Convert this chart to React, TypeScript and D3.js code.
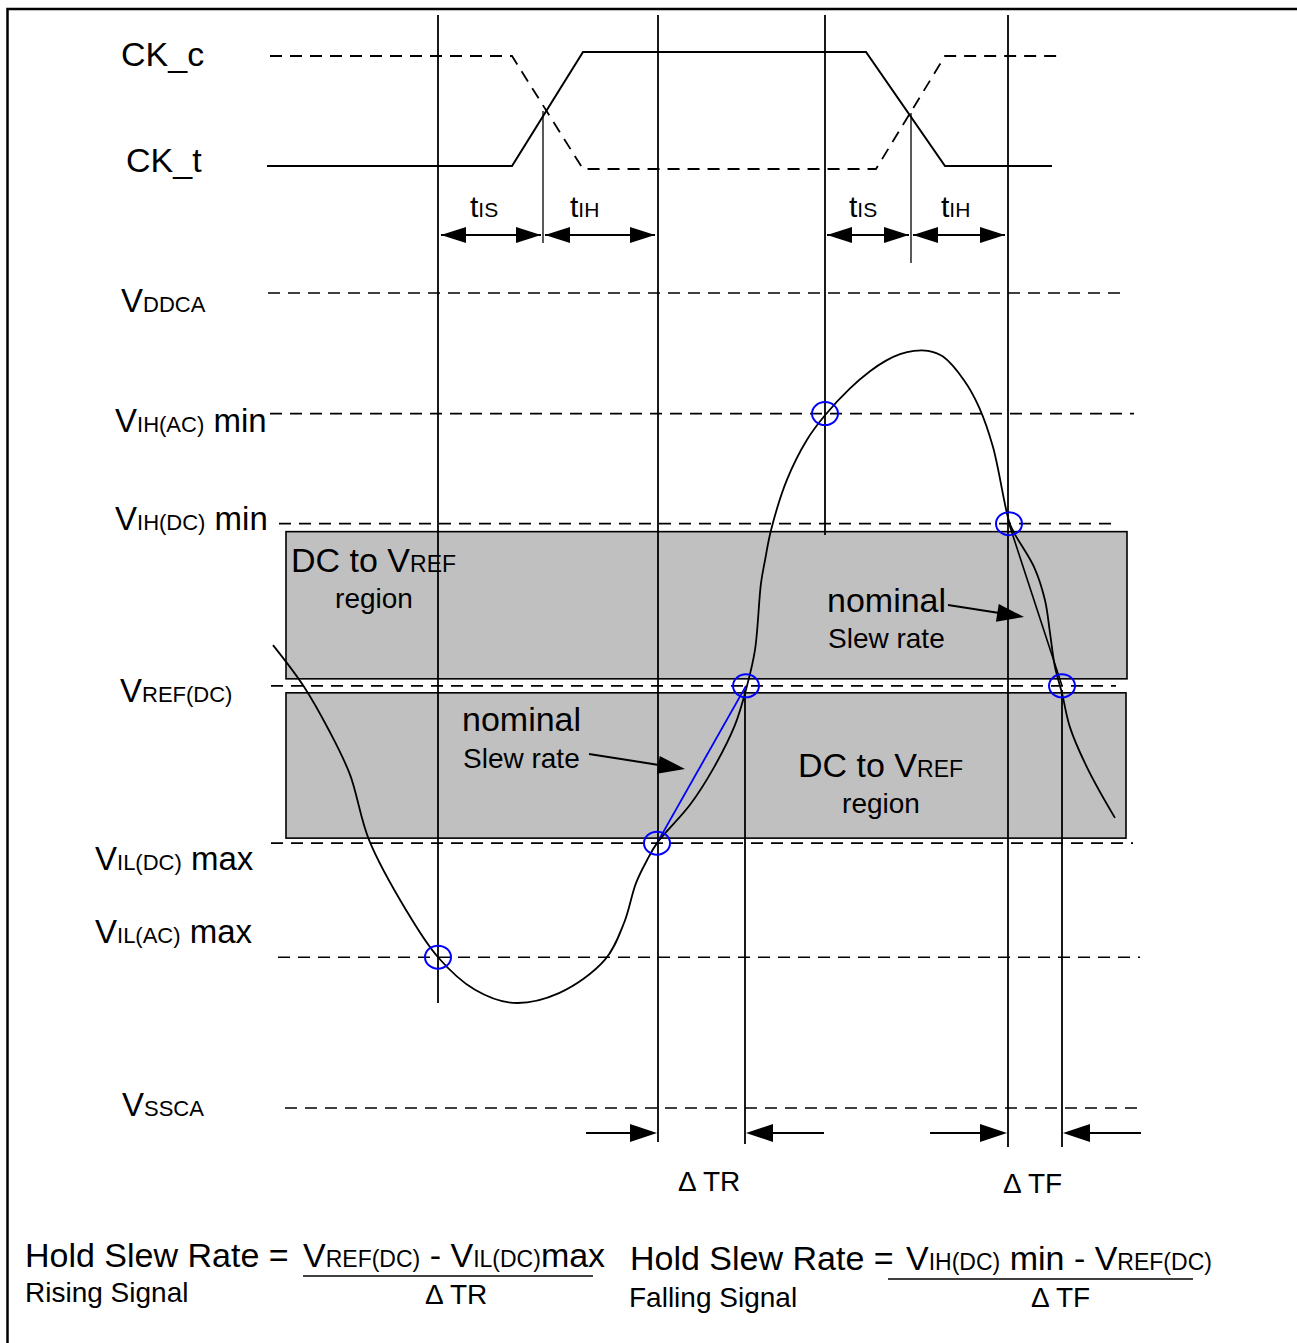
import React from "react";
import * as d3 from "d3";

// ---------- DATA ----------
// Reference voltage levels (% of VDDCA)
const levelNames = ["VDDCA", "VIH(AC) min", "VIH(DC) min", "VREF(DC)", "VIL(DC) max", "VIL(AC) max", "VSSCA"];
const levelValues = [100, 85.2, 71.7, 51.8, 32.5, 18.5, 0];

// Input waveform: time units and level (% of VDDCA)
const waveT = [273, 304, 330, 350, 369, 406, 438, 475, 513, 559, 605, 624, 636, 647, 657, 690, 714, 735, 747, 755, 761, 765, 771, 787, 807, 825, 850, 870, 886, 900, 914, 928, 943, 964, 979, 993, 1009, 1014, 1034, 1045, 1050, 1055, 1062, 1070, 1087, 1115];
const waveV = [56.8, 51.7, 46.1, 40.9, 32.9, 24.3, 18.5, 14.5, 12.9, 14.1, 18.2, 22.7, 27.6, 30.4, 32.5, 37.2, 41.8, 47.0, 51.8, 56.2, 64.4, 67.2, 70.9, 77.1, 82.0, 85.0, 88.3, 90.4, 91.7, 92.5, 92.9, 92.9, 92.2, 89.3, 86.0, 81.1, 72.0, 70.6, 66.4, 62.3, 58.3, 54.1, 50.9, 46.7, 41.8, 35.6];

// Clock edges: time, logic state
const ckT_times = [267, 512, 583, 866, 945, 1052];
const ckT_states = [0, 0, 1, 1, 0, 0];
const ckC_times = [270, 512, 583, 876, 945, 1062];
const ckC_states = [1, 1, 0, 0, 1, 1];

// Timing markers (time units)
const tSetupRise = 438, tCrossRise = 543, tHoldRise = 658, tVrefRise = 745;
const tSetupFall = 825, tCrossFall = 911, tHoldFall = 1008, tVrefFall = 1062;

// Threshold-crossing markers: time, level index
const markT = [438, 657, 746, 825, 1009, 1062];
const markLevel = [5, 4, 3, 1, 2, 3];

// ---------- LAYOUT ----------
const W = 1297, H = 1343;
const FONT = "'Liberation Sans', Arial, Helvetica, sans-serif";
const x = d3.scaleLinear().domain([0, W]).range([0, W]);
const y = d3.scaleLinear().domain([0, 100]).range([1108, 293]);
const yCkT = d3.scaleLinear().domain([0, 1]).range([166, 52]);
const yCkC = d3.scaleLinear().domain([0, 1]).range([169, 56]);

const levelExtent: [number, number][] = [[268, 1120], [270, 1134], [279, 1116], [271, 1116], [271, 1133], [278, 1140], [285, 1138]];

type Part = [string, number];
const levelLabelParts: Part[][] = [
  [["V", 33], ["DDCA", 22]],
  [["V", 33], ["IH(AC)", 22], [" min", 33]],
  [["V", 33], ["IH(DC)", 22], [" min", 33]],
  [["V", 33], ["REF(DC)", 22]],
  [["V", 33], ["IL(DC)", 22], [" max", 33]],
  [["V", 33], ["IL(AC)", 22], [" max", 33]],
  [["V", 33], ["SSCA", 22]],
];
const levelLabelPos: [number, number][] = [[121, 312], [115, 432], [115, 530], [120, 702], [95, 870], [95, 943], [122, 1116]];

function head(tip: [number, number], from: [number, number], len: number, hw: number) {
  const dx = tip[0] - from[0], dy = tip[1] - from[1];
  const L = Math.hypot(dx, dy);
  const ux = dx / L, uy = dy / L;
  const bx = tip[0] - ux * len, by = tip[1] - uy * len;
  return `M${tip[0]},${tip[1]}L${bx - uy * hw},${by + ux * hw}L${bx + uy * hw},${by - ux * hw}Z`;
}

function Txt({ x: tx, y: ty, parts, anchor }: { x: number; y: number; parts: Part[]; anchor?: string }) {
  return (
    <text x={tx} y={ty} fontFamily={FONT} fill="#000" textAnchor={anchor || "start"} style={{ whiteSpace: "pre" }}>
      {parts.map(([t, s], i) => (
        <tspan key={i} fontSize={s}>{t}</tspan>
      ))}
    </text>
  );
}

function DblArrow({ a, b, yy }: { a: number; b: number; yy: number }) {
  return (
    <g>
      <line x1={x(a)} x2={x(b)} y1={yy} y2={yy} stroke="#000" strokeWidth={2} />
      <path d={head([x(a), yy], [x(b), yy], 25, 8)} fill="#000" />
      <path d={head([x(b), yy], [x(a), yy], 25, 8)} fill="#000" />
    </g>
  );
}

function Arrow({ from, tip, len = 27, hw = 9 }: { from: [number, number]; tip: [number, number]; len?: number; hw?: number }) {
  const d = Math.hypot(tip[0] - from[0], tip[1] - from[1]);
  const ex = tip[0] - ((tip[0] - from[0]) / d) * (len - 2);
  const ey = tip[1] - ((tip[1] - from[1]) / d) * (len - 2);
  return (
    <g>
      <line x1={from[0]} y1={from[1]} x2={ex} y2={ey} stroke="#000" strokeWidth={2} />
      <path d={head(tip, from, len, hw)} fill="#000" />
    </g>
  );
}

export default function App() {
  const wave = d3
    .line<number>()
    .x((_, i) => x(waveT[i]))
    .y((v) => y(v))
    .curve(d3.curveCatmullRom.alpha(0.5))(waveV) as string;

  const ckTLine = d3.line<number>().x((t) => x(t)).y((_, i) => yCkT(ckT_states[i]))(ckT_times) as string;
  const ckCLine = d3.line<number>().x((t) => x(t)).y((_, i) => yCkC(ckC_states[i]))(ckC_times) as string;

  const vLines: [number, number, number, number][] = [
    [tSetupRise, 15, 1003, 1.8],
    [tHoldRise, 15, 1142, 1.8],
    [tVrefRise, 690, 1144, 1.8],
    [tSetupFall, 15, 535, 1.8],
    [tHoldFall, 15, 1147, 1.8],
    [tVrefFall, 690, 1147, 1.8],
    [tCrossRise, 111, 243, 1.3],
    [tCrossFall, 113, 263, 1.3],
  ];

  const ref = levelValues[3], dcHi = levelValues[2], dcLo = levelValues[4];

  return (
    <svg width={W} height={H} style={{ position: "absolute", left: 0, top: 0, background: "#fff" }}>
      <rect x={0} y={0} width={W} height={H} fill="#fff" />
      {/* frame */}
      <path d={`M7.5,${H}V9H${W}`} fill="none" stroke="#000" strokeWidth={2.5} />

      {/* DC to VREF regions */}
      <rect x={286} y={y(dcHi) + 8} width={1127 - 286} height={y(ref) - 7 - (y(dcHi) + 8)} fill="#c0c0c0" stroke="#000" strokeWidth={1.6} />
      <rect x={286} y={y(ref) + 7} width={1126 - 286} height={y(dcLo) - 5 - (y(ref) + 7)} fill="#c0c0c0" stroke="#000" strokeWidth={1.6} />

      {/* level dashed lines */}
      {levelValues.map((v, i) => (
        <line key={i} x1={x(levelExtent[i][0])} x2={x(levelExtent[i][1])} y1={y(v)} y2={y(v)} stroke="#000" strokeWidth={1.6} strokeDasharray="12,8" />
      ))}

      {/* vertical time markers */}
      {vLines.map(([t, y1, y2, sw], i) => (
        <line key={i} x1={x(t)} x2={x(t)} y1={y1} y2={y2} stroke="#000" strokeWidth={sw} />
      ))}

      {/* clocks */}
      <path d={ckCLine} fill="none" stroke="#000" strokeWidth={1.8} strokeDasharray="12,8" />
      <path d={ckTLine} fill="none" stroke="#000" strokeWidth={2} />

      {/* nominal slew lines */}
      <line x1={x(markT[1])} y1={y(dcLo)} x2={x(markT[2])} y2={y(ref)} stroke="#0000ff" strokeWidth={1.8} />
      <line x1={x(markT[4])} y1={y(dcHi)} x2={x(markT[5])} y2={y(ref)} stroke="#000" strokeWidth={1.6} />

      {/* waveform */}
      <path d={wave} fill="none" stroke="#000" strokeWidth={1.8} />

      {/* crossing markers */}
      {markT.map((t, i) => (
        <ellipse key={i} cx={x(t)} cy={y(levelValues[markLevel[i]])} rx={13} ry={11.5} fill="none" stroke="#0000ff" strokeWidth={2} />
      ))}

      {/* labels */}
      <Txt x={121} y={66} parts={[["CK_c", 34]]} />
      <Txt x={126} y={172} parts={[["CK_t", 34]]} />
      {levelLabelParts.map((p, i) => (
        <Txt key={i} x={levelLabelPos[i][0]} y={levelLabelPos[i][1]} parts={p} />
      ))}

      {/* tIS / tIH */}
      <Txt x={470} y={217} parts={[["t", 30], ["IS", 21]]} />
      <Txt x={570} y={217} parts={[["t", 30], ["IH", 21]]} />
      <Txt x={849} y={217} parts={[["t", 30], ["IS", 21]]} />
      <Txt x={941} y={217} parts={[["t", 30], ["IH", 21]]} />
      <DblArrow a={tSetupRise + 3} b={tCrossRise - 2} yy={235} />
      <DblArrow a={tCrossRise + 2} b={tHoldRise - 3} yy={235} />
      <DblArrow a={tSetupFall + 2} b={tCrossFall - 2} yy={235} />
      <DblArrow a={tCrossFall + 2} b={tHoldFall - 3} yy={235} />

      {/* region texts */}
      <Txt x={291} y={572} parts={[["DC to V", 34], ["REF", 23]]} />
      <Txt x={374} y={608} parts={[["region", 28]]} anchor="middle" />
      <Txt x={798} y={777} parts={[["DC to V", 34], ["REF", 23]]} />
      <Txt x={881} y={813} parts={[["region", 28]]} anchor="middle" />
      <Txt x={827} y={612} parts={[["nominal", 34]]} />
      <Txt x={828} y={648} parts={[["Slew rate", 28]]} />
      <Txt x={462} y={731} parts={[["nominal", 34]]} />
      <Txt x={463} y={768} parts={[["Slew rate", 28]]} />
      <Arrow from={[948, 605]} tip={[1024, 617]} />
      <Arrow from={[589, 754]} tip={[685, 769]} />

      {/* delta T arrows */}
      <Arrow from={[586, 1133]} tip={[x(tHoldRise) - 1, 1133]} />
      <Arrow from={[824, 1133]} tip={[x(tVrefRise) + 1, 1133]} />
      <Arrow from={[930, 1133]} tip={[x(tHoldFall) - 1, 1133]} />
      <Arrow from={[1141, 1133]} tip={[x(tVrefFall) + 1, 1133]} />
      <Txt x={678} y={1191} parts={[["Δ TR", 28]]} />
      <Txt x={1003} y={1193} parts={[["Δ TF", 28]]} />

      {/* formulas */}
      <Txt x={25} y={1267} parts={[["Hold Slew Rate = ", 34]]} />
      <Txt x={303} y={1267} parts={[["V", 34], ["REF(DC)", 23], [" - V", 34], ["IL(DC)", 23], ["max", 34]]} />
      <line x1={303} x2={593} y1={1276} y2={1276} stroke="#000" strokeWidth={1.6} />
      <Txt x={425} y={1304} parts={[["Δ TR", 28]]} />
      <Txt x={25} y={1302} parts={[["Rising Signal", 28]]} />

      <Txt x={630} y={1270} parts={[["Hold Slew Rate = ", 34]]} />
      <Txt x={906} y={1270} parts={[["V", 34], ["IH(DC)", 23], [" min - V", 34], ["REF(DC)", 23]]} />
      <line x1={888} x2={1193} y1={1279} y2={1279} stroke="#000" strokeWidth={1.6} />
      <Txt x={1031} y={1307} parts={[["Δ TF", 28]]} />
      <Txt x={629} y={1307} parts={[["Falling Signal", 28]]} />
    </svg>
  );
}
